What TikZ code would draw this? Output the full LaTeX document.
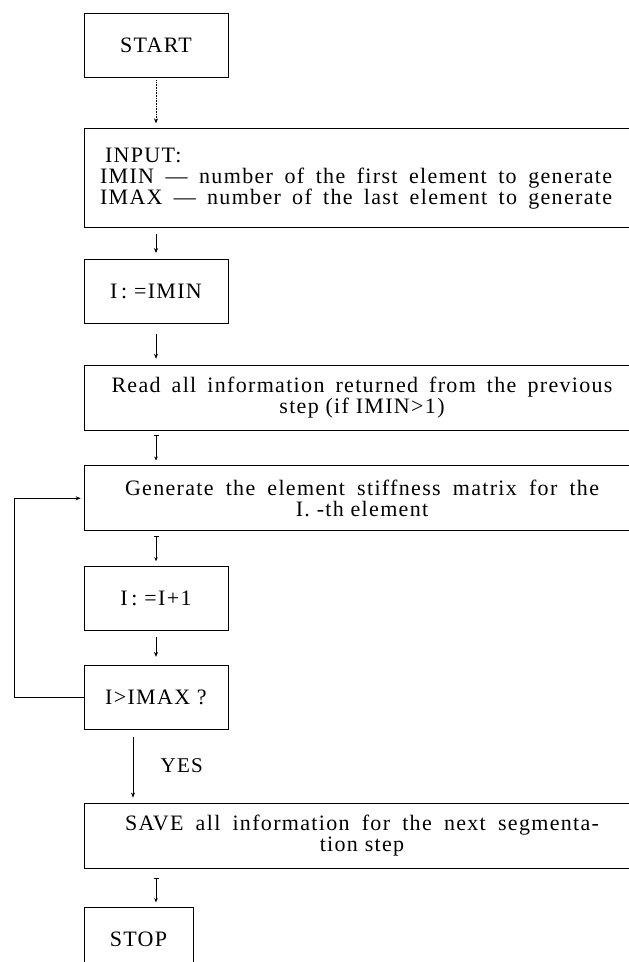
\documentclass[tikz,border=0pt]{standalone}
\usepackage{fontspec}
\setmainfont{Liberation Serif}[LetterSpace=6]
\usetikzlibrary{arrows.meta, positioning}

% one line spread to a given width
\newcommand{\spreadline}[2]{\makebox[#1][s]{\spaceskip=0.3em plus 1fil\relax #2}}

\begin{document}
\begin{tikzpicture}[
		x=1pt, y=-1pt, % page units, y downwards
		box/.style={rectangle, draw=black, line width=0.7pt, inner sep=0pt, minimum height=64pt, font=\fontsize{22}{21}\selectfont},
		smallbox/.style={box, minimum width=144pt},
		widebox/.style={box, minimum width=556pt, minimum height=65pt, align=center},
		stopbox/.style={box, minimum width=109pt},
		lbl/.style={font=\fontsize{21}{21}\selectfont},
		arrow/.style={-{Stealth[length=5pt, width=4pt]}, line width=0.6pt},
		barrow/.style={{Bar[width=5pt]}-{Stealth[length=4pt, width=3.5pt]}, line width=0.6pt}
		]
		
		\useasboundingbox (0,0) rectangle (629,962);
		\clip (0,0) rectangle (629,962);
		
		% Steps
		\node[smallbox] (start) at (156,45) {START};
		\node[widebox, minimum height=99pt, text width=524pt, inner xsep=16pt, align=left, below=51pt of start.south west, anchor=north west] (input) {\hspace*{5pt}INPUT:\\\spreadline{512pt}{IMIN — number of the first element to generate}\\\spreadline{512pt}{IMAX — number of the last element to generate}};
		\node[smallbox, below=31pt of input.south west, anchor=north west] (imin) {I\,: =IMIN};
		\node[widebox, below=41pt of imin.south west, anchor=north west] (read) {\spreadline{501pt}{Read all information returned from the previous}\\step (if IMIN>1)};
		\node[widebox, below=35pt of read.south west, anchor=north west] (gen) {\spreadline{474pt}{Generate the element stiffness matrix for the}\\I. -th element};
		\node[smallbox, below=35pt of gen.south west, anchor=north west] (incr) {I\,: =I+1};
		\node[smallbox, below=34pt of incr.south west, anchor=north west] (test) {I>IMAX ?};
		\node[widebox, below=73pt of test.south west, anchor=north west] (save) {\spreadline{474pt}{SAVE all information for the next segmenta-}\\tion step};
		\node[stopbox, below=39pt of save.south west, anchor=north west] (stop) {STOP};
		
		% Arrows
		\draw[arrow, densely dotted, shorten <=3pt, shorten >=5pt] (start.south) -- (start.south |- input.north);
		\draw[arrow, shorten <=6pt, shorten >=6pt] (input.south -| imin.north) -- (imin.north);
		\draw[arrow, shorten <=10pt, shorten >=6pt] (imin.south) -- (imin.south |- read.north);
		\draw[barrow, shorten <=5pt, shorten >=5pt] (read.south -| imin.south) -- (gen.north -| imin.south);
		\draw[barrow, shorten <=5pt, shorten >=5pt] (gen.south -| incr.north) -- (incr.north);
		\draw[arrow, shorten <=6pt, shorten >=8pt] (incr.south) -- (test.north);
		\draw[arrow, shorten <=7pt, shorten >=5pt] ([xshift=-23pt]test.south) -- ([xshift=-23pt]test.south |- save.north) node[lbl, midway, right=24pt] (yes) {YES};
		\draw[barrow, shorten <=10pt, shorten >=5pt] (save.south -| incr.south) -- (stop.north -| incr.south);
		
		% Loop back
		\draw[arrow, shorten >=3pt] (test.west) -- ++(-69pt,0) |- (gen.west);
		
	\end{tikzpicture}
\end{document}
